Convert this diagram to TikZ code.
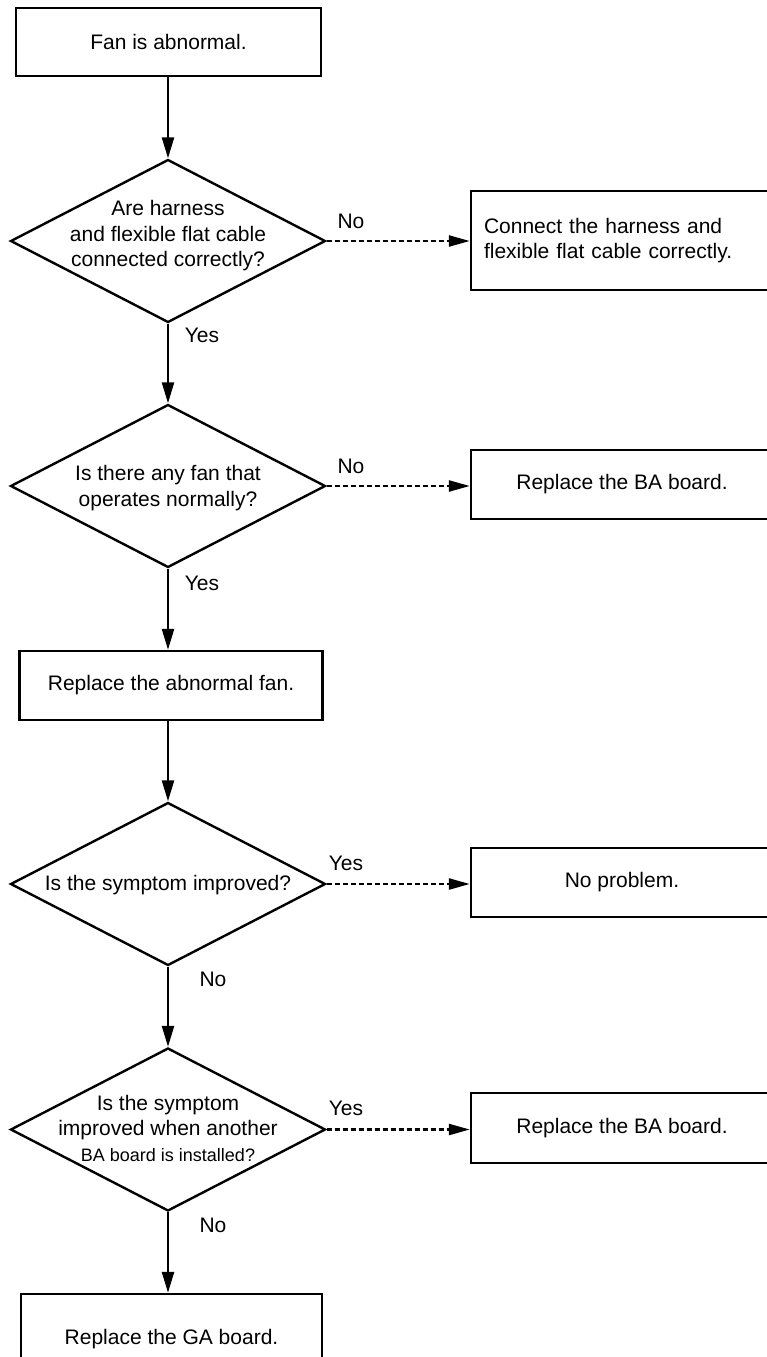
\documentclass[tikz,border=0pt]{standalone}
\usepackage{fontspec}
\setmainfont{Liberation Sans}
\usetikzlibrary{shapes.geometric,arrows.meta}
\begin{document}
\begin{tikzpicture}[x=1pt,y=-1pt,
  every node/.style={font=\fontsize{21}{25.5}\selectfont},
  box/.style={draw,line width=2.4pt,rectangle,inner sep=0pt,align=center},
  dia/.style={draw,line width=2.4pt,diamond,inner sep=0pt,minimum width=315pt,minimum height=163pt},
  txt/.style={align=center,inner sep=0pt},
  lbl/.style={inner sep=0pt},
  flow/.style={line width=2.4pt,-{Triangle[length=21pt,width=12pt]}},
  sideflow/.style={line width=2.4pt,dash pattern=on 5pt off 3pt,-{Triangle[length=21pt,width=11pt]}},
]
\useasboundingbox (0,0) rectangle (767,1357);
\clip (0,0) rectangle (767,1357);

% left column
\node[box,minimum width=305pt,minimum height=68pt] (b1) at (168.5,42) {Fan is abnormal.};
\node[dia] (d1) at (168,241) {};
\node[txt] (d1t) at (168,236) {Are harness\\and flexible flat cable\\connected correctly?};
\node[dia] (d2) at (168,486) {};
\node[txt] (d2t) at (168,488) {Is there any fan that\\operates normally?};
\node[box,minimum width=303pt,minimum height=69pt] (b3) at (171,685.5) {Replace the abnormal fan.};
\node[dia] (d3) at (168,884) {};
\node[txt] (d3t) at (168,885) {Is the symptom improved?};
\node[dia] (d4) at (168,1129.5) {};
\node[txt] (d4t) at (168,1128) {Is the symptom\\improved when another\\{\fontsize{18}{22}\selectfont BA board is installed?}};
\node[box,minimum width=301pt,minimum height=90pt] (b5) at (171.5,1339) {Replace the GA board.};

% right column
\node[box,minimum width=302pt,minimum height=99pt,text width=276pt,align=left] (r1) at (622,240.5) {Connect the harness and\\flexible flat cable correctly.};
\node[box,minimum width=302pt,minimum height=69pt] (r2) at (622,484.5) {Replace the BA board.};
\node[box,minimum width=302pt,minimum height=69pt] (r3) at (622,882.5) {No problem.};
\node[box,minimum width=302pt,minimum height=70pt] (r4) at (622,1128) {Replace the BA board.};

% connectors
\draw[flow] (b1.south -| d1.north) -- (d1.north);
\draw[flow] (d1.south) -- (d2.north);
\draw[flow] (d2.south) -- (b3.north -| d2.south);
\draw[flow] (b3.south -| d3.north) -- (d3.north);
\draw[flow] (d3.south) -- (d4.north);
\draw[flow] (d4.south) -- (b5.north -| d4.south);

\draw[sideflow] (d1.east) -- (r1.west |- d1.east);
\draw[sideflow] (d2.east) -- (r2.west |- d2.east);
\draw[sideflow] (d3.east) -- (r3.west |- d3.east);
\draw[sideflow] (d4.east) -- (r4.west |- d4.east);

% labels
\node[lbl] (l1n) at (351,221) {No};
\node[lbl] (l1y) at (202,335) {Yes};
\node[lbl] (l2n) at (351,466) {No};
\node[lbl] (l2y) at (202,583) {Yes};
\node[lbl] (l3y) at (346,863) {Yes};
\node[lbl] (l3n) at (213,979) {No};
\node[lbl] (l4y) at (346,1108) {Yes};
\node[lbl] (l4n) at (213,1225) {No};
\end{tikzpicture}
\end{document}
